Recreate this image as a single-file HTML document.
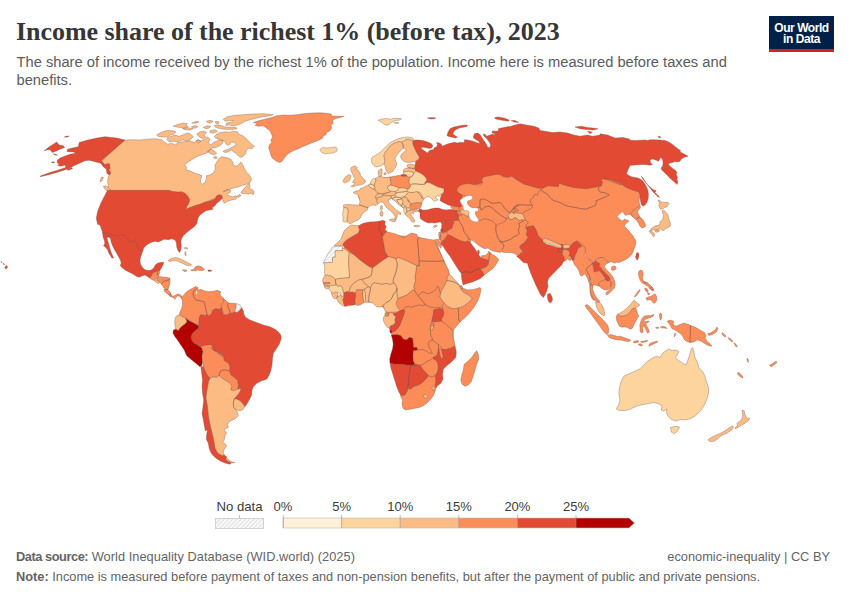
<!DOCTYPE html>
<html>
<head>
<meta charset="utf-8">
<title>Income share of the richest 1% (before tax), 2023</title>
<style>
html,body{margin:0;padding:0;background:#fff;}
body{width:850px;height:600px;position:relative;overflow:hidden;font-family:"Liberation Sans",sans-serif;}
.abs{position:absolute;white-space:nowrap;}
#title{left:16px;top:16.5px;font-family:"Liberation Serif",serif;font-weight:bold;font-size:26px;color:#363636;line-height:30px;letter-spacing:-0.04px;}
#sub{left:16.5px;top:52.9px;font-size:14.7px;color:#5b5b5b;line-height:18px;white-space:normal;width:745px;}
#logo{left:769px;top:16px;width:65px;height:33px;background:#002147;border-bottom:3px solid #ce261e;color:#fff;text-align:center;font-weight:bold;font-size:12px;line-height:11.4px;letter-spacing:-0.45px;}
#logo span{display:block;}
.foot{font-size:12.8px;color:#646464;}
.foot b{color:#646464;}
.lg{font-size:13px;color:#3b3b3b;transform:translateX(-50%);}
svg{position:absolute;left:0;top:0;}
</style>
</head>
<body>
<div id="title" class="abs">Income share of the richest 1% (before tax), 2023</div>
<div id="sub" class="abs">The share of income received by the richest 1% of the population. Income here is measured before taxes and benefits.</div>
<div id="logo" class="abs"><span style="margin-top:6.6px">Our World</span><span>in Data</span></div>

<svg id="map" width="850" height="600" viewBox="0 0 850 600">
<defs>
<pattern id="hatch" width="4" height="4" patternUnits="userSpaceOnUse" patternTransform="rotate(45) scale(0.75)">
<rect width="4" height="4" fill="#fff"/><line x1="1" y1="0" x2="1" y2="4" stroke="#dedede" stroke-width="1.7"/>
</pattern>
</defs>
<g id="countries" stroke="#6b5247" stroke-width="0.35" stroke-linejoin="round">
<!--MAP-START-->
<path fill="#fdbb84" d="M125,140L133.3,139.7L140,140L146.7,139.2L155,138.7L161.7,139.7L165,142.5L167.5,144.2L171.7,143.3L175.8,145L177.5,142.5L184.2,141.7L190,140.8L194.2,142.5L197.5,140L200.8,140.8L205,139.2L207.5,136.7L210,139.2L208.3,142.5L210.8,145L213.3,142.5L217.5,140.8L220,140L223.3,140.5L222.5,143.3L220,145.8L215.8,147.5L211.7,148.3L209.2,150.8L206.7,153L201.7,154.7L196.7,156.7L191.7,159.7L187.5,162.5L184.7,164.7L186.7,167.5L185.8,169.7L190,170.8L194.2,173L198.3,174.2L201.7,175.3L200.8,179.2L200.3,182.5L202.5,184.2L205,182.5L206.7,178.3L206.3,175.8L210,175L213.3,173L215.3,169.2L215,165L217,161.7L219.2,158.3L221.7,156.7L226.7,157.5L230.8,159.2L232.5,161.7L233.3,165L235.8,166.3L238.3,165L240.8,162L242.5,164.2L244.2,168.3L246.7,172.5L250,175.8L251.7,179.2L250,182.5L246.7,184.2L242.5,185.3L238.3,187L233.3,188L229.2,189.2L225.8,190.8L223.3,191.7L227.5,189.7L230.8,190L230,192.5L226.7,194.2L229.2,195.8L232.5,196.7L235.8,195.8L237.5,196.7L235.8,199.2L231.7,200L227.5,201.3L224.2,203.3L223,201.3L222.5,198L218.3,196.7L186.7,210L107.5,190.3L108.3,185.8L107.5,181.7L108.3,176.7L110.3,173.3L101.3,160.8ZM240.8,192.5L244.2,188.3L247.5,185L249.2,183.3L250,185.8L249.2,188.3L252.5,189.7L254.2,191.7L253.3,194.7L250.8,193.3L248.3,194.2L245,193.3L242.5,193.7ZM237.5,195.8L240,194.2L240.8,195.8L238.3,197.5ZM156.7,135L160.8,132.5L166.7,130.5L173.3,130.8L175.8,132L173.3,134.2L170,135L167.5,137.5L165,136.7L160.8,137L158,136.3ZM166.7,139.2L170,136.7L175,135L179.2,136.3L183.3,134.7L187.5,133L190.8,134.2L193.3,136.7L190.8,139.2L187.5,140.8L182.5,140L178.3,141.7L173.3,141.3L169.2,141.7ZM173.3,126.2L178.3,124.2L183.7,123L187.5,123.7L185.8,125.3L188.3,126.7L184.2,128L180,127.5L176.7,127ZM191.7,123L196.7,121.3L199.2,121.7L195.8,123.3ZM191.3,127L195,125.5L198,126.7L195,128.3ZM182.5,128.7L187.5,127.7L193.3,128.7L190,130L185,129.8ZM196.7,134.2L200,131.7L204.2,131.3L206.7,132.5L204.2,135L205.8,137.5L202.5,138.7L199.2,136.7ZM196.3,140.5L198.7,139.7L200.8,141.3L198.3,143ZM206.3,121.3L210,120.3L213.3,121.3L210.8,123L207.5,122.5ZM203.3,127.5L206.7,125.8L210.8,126.3L209.2,128L205.8,128.7ZM215.8,121.3L219.2,122L218.3,123.7L215.3,123ZM214.4,125.6L217.5,124.8L221.2,125.6L225,126.9L230,127.2L236.2,127.5L236.9,128.8L232.5,129.4L227.5,129.4L222.5,129L218.1,128.1L215.6,127.2ZM210,130.8L215,129.7L217.5,131.3L213.3,133.3L210,132.5ZM223.3,119.2L227.5,116.7L235,115.3L243.3,114.7L253.3,114L263.3,113.7L273.3,114.7L270,115.8L263.3,116.7L256.7,118L250,119.7L245,121.3L241.7,123.3L237.5,125L233.3,125.8L229.2,125L225.8,125.3L226.7,123L231.7,122L233.3,120.3L228.3,120.8L225,121.3ZM214.4,136.9L216.2,134.4L220,132.5L225,131.9L230,132.2L232.5,131.2L237.5,131.9L239.4,134.4L242.5,135.6L245.6,138.1L248.8,141.2L251.2,143.8L254.4,146.2L251.9,148.8L248.8,148.1L246.2,150.6L245.6,153.8L243.1,156.2L240.6,157.5L238.1,155.6L236.2,153.8L233.8,151.9L231.2,150L228.1,151.9L225,152.5L223.1,151.2L225.6,150L229.4,148.8L232.5,146.9L236.2,145L235,142.5L231.9,141.9L230,143.8L228.1,145.6L226.2,144.4L225,141.9L223.8,140.6L220,139.4L216.9,138.8ZM207.5,151.7L210.8,149.2L214.2,150.8L216.7,153.3L214.2,155L210.8,153.7ZM213.3,157.5L215.8,156.3L217.5,158L215.3,158.8Z"/>
<path fill="#fdbb84" d="M100,180.8L101.3,177.5L103.3,177L102.5,180L100.8,182ZM103.3,186.3L105.8,185.8L109.2,188.3L111.7,190.8L110.8,194.2L108.3,191.7L105,189.2Z"/>
<path fill="#e34a33" d="M125,140L116.7,138L105,136.7L96.7,138L86.7,140.3L79.2,142.5L78.3,146.7L74.7,147.5L67.5,149.2L67,151.7L73.7,152L75.8,153.3L70,154.2L65.8,155.8L60,158L57.5,160L57,162.5L59.2,164.2L57.5,165.3L60.8,166.3L65,165L65.8,167.5L58.3,170L50,172.5L40.8,175.8L40,176.7L46.7,175.3L56.7,172.5L66.7,169.2L75,165.3L80,163L85,160.8L89.2,160.3L95,161.7L100.8,163.3L103.3,166.7L106.3,169.2L107,173.7L109.7,175L110.8,172.5L109,170L110,168.3L109.7,163.7L106.7,163.7L105,164.7L101.3,160.8ZM64.2,137L67,136L69.3,136.3L66.7,137.3ZM44.2,150.8L48.3,147.5L56.7,142L59.2,145L63.3,145.8L64.7,147.5L60,149.2L56.7,150.8L52.5,152.5L50,149.7L46.7,150ZM53.3,153.8L55.8,154.2L57.5,155.3L55,155ZM51.3,162.2L53.3,161.7L54.7,162.5L52.5,163ZM67,169.2L71.7,167.5L72.5,168.7L68,170.3Z"/>
<path fill="#e34a33" d="M107.5,190.3L169.2,190.3L171.7,191.3L177.5,192L181.7,191.7L185,193.3L187.5,195.8L189.7,199.2L189.2,202.5L186.7,206.7L185.8,209.2L190,207.5L195.8,205.3L200,204.2L204.2,202.5L210,200.8L215,198.7L216.7,195.8L219.2,194.7L221.7,195.3L222.5,198L220,200.8L216.7,203.3L215,205.8L211.7,208L213.3,209.2L209.2,210L205.8,210.8L203.3,212.5L200,215L198.3,217.5L197.5,220L196.7,223.7L194.2,226.7L190.8,229.2L186.7,232.5L183.3,235.8L181.7,238.3L180.8,241.7L181.3,245.8L180.8,250L179.7,252.5L178,250.8L176.7,246.7L176.3,242.5L175,240L171.7,238.7L168.3,239.7L164.2,239.2L162.5,240L158.3,242L155,241.3L150.8,242.5L146.7,245L143.7,248L142.7,251.3L140.8,253L138.3,250.3L135.8,247L134.2,244.7L131.7,245.3L129.2,243.7L126.7,240.3L124.2,237.8L120,237.5L116.7,239.2L110,237.8L104.2,236.2L103,233L101.7,230L100,225L97.5,224.2L96.3,218.3L97.5,211.7L100.8,203.3L104.2,196.7Z"/>
<path fill="#fdbb84" d="M168.3,260.3L171.7,258.3L175.8,257.5L180,258.7L184.2,260.8L188.3,263L191.7,264.7L190.8,265.8L186.7,265.3L184.2,264.2L180.8,262.5L176.7,260.8L172.5,260.8L169.2,261.7Z"/>
<path fill="#fc8d59" d="M190.8,270L194.2,269.2L195,267L198.3,265.8L202,267L204.7,269.7L201.7,270.8L198.3,270L195.8,270.8L191.7,270.8ZM182.5,270L185,269.7L187,270.8L184.7,271.7Z"/>
<path fill="#e34a33" d="M208,270L211.3,270L211.3,271.3L208,271.3Z"/>
<path fill="#fdbb84" d="M183.8,248L187,247.5L187.8,249.2L186.7,248.7ZM184.7,252.5L185.8,251.7L186.2,255.8L185,255Z"/>
<path fill="#e34a33" d="M102.5,232.5L106.2,232.8L110.6,234.4L115,235.6L120,235.6L123.1,234.8L125.6,235.6L127.5,238.1L129.4,241.2L131.9,241.9L133.8,240.6L135.6,241.9L137.5,245.6L138.8,248.8L140.6,250.6L142.5,250.6L141.9,253.8L140.6,256.9L140,260.6L140.6,264.4L142.5,267.5L145,269.8L148.1,270.6L151.2,270L153.8,268.1L155,265.6L156.9,263.5L160,262.5L163.8,262.2L163.1,264.4L161.9,266.9L160.6,269.4L159.4,271L158.1,271.2L155.6,271.9L153.8,273.1L152.5,275L151.9,277.2L150,278.1L148.1,276.9L145,275L141.9,276L139.4,277.2L136.2,276.2L132.5,273.8L128.8,271.9L125,270L121.9,267.5L120.2,265.6L121.2,263.1L120.6,260.6L119,257.5L116.9,253.8L115,250.6L113.1,246.9L111.5,243.1L110.6,239.4L110,236.2L108.1,235.6L106.9,236.2L107.2,238.8L108.1,241.9L109,245L110,248.8L111.2,252.5L112.5,255.6L113.5,258.1L111.9,258.1L110,255L108.5,252.5L107.5,249.4L105.6,247.5L103.5,245.6L104.8,243.8L104.4,240.6L103.1,236.9Z"/>
<path fill="#fc8d59" d="M253.3,122.5L258.3,120.8L265,119.2L271.7,117.5L276.7,115.8L283.3,115L290,115.3L296.7,114.7L303.3,113.7L311.7,113L320,112.8L326.7,113.3L331.7,114.2L330.8,115.8L336.7,116.3L344.2,116.3L340,117.5L335,118.7L332.5,120.8L333.3,123.3L330.8,125L331.7,128.3L330,130.8L326.7,132.5L325.8,135L323.3,135.8L322.5,138.3L319.2,140L315,141.7L310.8,143.3L306.7,145L302.5,146.7L298.3,148.7L294.2,150.3L290,152.5L286.7,155L284.2,158.3L281.7,161.7L279.2,162.5L275.8,160.8L272.5,158.3L270.8,155L270,151.7L268.7,148.3L269.2,145L271.7,142.5L270.8,140L272.5,137.5L271.7,134.2L270,130.8L266.7,128.3L263.3,125.8L258.3,126.3L255,125.3L257.5,123.7Z"/>
<path fill="#fdd49e" d="M319.7,149.7L322.5,147.5L326.7,148L331.7,147.5L335.8,147L337.5,148.7L336.7,151.3L333.3,153L329.2,153.3L325,153.8L321.7,152.5Z"/>
<path fill="#fc8d59" d="M149.8,278.1L151.9,275L153.1,272.5L155.6,271.9L156.9,271L157.5,272.5L157.2,275L158.8,276.2L156.9,278.1L154.8,280.6L152.5,280ZM157.5,271L159.4,270.2L159.8,272.5L158.8,275.6L157.2,275L157.5,272.5Z"/>
<path fill="#fdbb84" d="M154.8,281L156.9,280L159.4,281.9L158.8,283.5L156.2,282.8Z"/>
<path fill="#fc8d59" d="M156.9,278.1L158.8,276.2L161.9,276.9L166.2,277.2L170,278.1L168.8,280L165.6,280.6L163.1,281.9L161.2,283.8L159.4,281.9L156.9,280ZM161.2,283.8L163.1,281.9L165.6,280.6L168.8,280L170,278.8L170,283.1L169,286.2L168.1,289.4L165.6,289.4L163.8,287.8L162.2,285.6ZM163.8,289.4L165.6,289.4L168.1,289.8L170,292.5L171.2,295L170,296.2L168.1,294.4L165.6,292.5L164.4,291.2ZM170,292.5L171.2,295L173.1,296.2L175,295.6L177.5,294L180,294.4L181.9,296.2L182.5,298.8L181,298.1L179.8,296.2L177.5,296L175.6,297.8L174.8,299.4L173.5,297.5L171.2,296.9L170,296.2Z"/>
<path fill="#e34a33" d="M209.2,315.8L211.7,313.3L212.5,310L215.8,308.3L219.2,309.2L221.7,307.5L222.5,310L223.3,314.2L226.7,314.7L230,313.3L231.7,313L235,311.7L236.7,312.5L239.2,310.8L241.7,307.5L243.3,310.8L244.2,315L245.8,317.5L250,320L256.7,322.5L263.3,325L270,326.7L275,329.2L278.3,331.7L280.8,335L281.2,338.3L280.8,340L279.2,344.2L276.7,348.3L273.3,353.3L272.5,358.3L272,365L270.8,370.8L269.2,375L266.7,379.2L261.7,380.8L256.7,383.3L253.3,386.7L252,390L251.7,395L249.2,400L246.7,404.2L245,406.7L243.3,404.2L240,400.8L236.7,399.2L234.2,398.7L237.5,395L240,391.7L240.8,388.3L237.5,389.2L238.3,385L237.5,380.8L234.2,377.5L230.8,375L229.2,370.8L230,367.5L228.3,363.3L224.2,360.8L223,355.8L219.2,353L213.3,350.3L210.8,347.5L209.2,344.7L205.8,345.8L203.3,345.8L200,346.7L197.5,345L194.2,343.3L192,340.8L190.8,336.7L192.5,333.3L195,330.8L198.3,328.3L198.3,325.8L198.7,321.7L199.2,317.5L200,315L203.3,314.7L205.8,315.8L206.7,313.3Z"/>
<path fill="#fc8d59" d="M181.7,298.3L183,295.8L185.8,292.5L189.2,290L192.5,288.3L195.8,286.3L197.5,287.5L195.8,289.2L193.7,290.8L193,294.2L194.2,297.5L195.8,300L200,300.8L204.2,301.7L205,305L205.8,309.2L206.7,313.3L205.8,315.8L203.3,314.7L200,315L199.2,317.5L198.7,321.7L198.3,325.8L195.8,324.2L192.5,322.5L189.2,320.8L185.8,318.3L182.5,316.7L179.2,315L180,311.7L181.7,308.3L182.5,305L182.5,301.7ZM195.8,289.2L197.5,287.5L198.3,290L200.8,289.2L204.2,290.8L208.3,291.7L213.3,291.3L217.5,290.3L220.8,291.7L220,294.2L221.7,296.7L223.3,298.3L225.8,300.8L223.3,302.5L220.8,305L221.7,307.5L219.2,309.2L215.8,308.3L212.5,310L211.7,313.3L209.2,315.8L206.7,313.3L205.8,309.2L205,305L204.2,301.7L200,300.8L195.8,300L194.2,297.5L193,294.2L193.7,290.8Z"/>
<path fill="#fff" stroke="#b9a79a" d="M195.8,291.7L197,290.8L197.5,293.3L196.3,294.7Z"/>
<path fill="#fc8d59" d="M223.3,298.3L225.8,300.8L228.3,302.5L227.5,305.8L229.2,309.2L230,313.3L226.7,314.7L223.3,314.2L222.5,310L221.7,307.5L220.8,305L223.3,302.5ZM228.3,303L233.3,303.3L236.3,303.7L235.8,307.5L235,311.7L231.7,313L230,313.3L229.2,309.2L227.5,305.8Z"/>
<path fill="url(#hatch)" d="M236.3,303.7L239.7,304.7L241.7,307.5L239.2,310.8L236.7,312.5L235,311.7L235.8,307.5Z"/>
<path fill="#fdbb84" d="M179.2,315L182.5,316.7L185.8,318.3L187,321.7L185,324.2L182.5,325.8L180,328.3L178.3,330.8L175.8,329.2L175,325.8L174.7,321.7L175.3,317.5L176.7,315.8Z"/>
<path fill="#b30000" d="M175.8,329.2L178.3,330.8L180,328.3L182.5,325.8L185,324.2L187,321.7L185.8,318.3L189.2,320.8L192.5,322.5L195.8,324.2L198.3,325.8L198.3,328.3L195,330.8L192.5,333.3L190.8,336.7L192,340.8L194.2,343.3L197.5,345L200,346.7L201.7,347.5L203,351.7L202,356.7L202.5,361.7L201.7,365.8L200,366.7L195.8,363.3L190.8,359.2L186.7,355.8L184.2,350L180.8,345L177.5,340L175,336.7L173,333.3L173.3,330Z"/>
<path fill="#fc8d59" d="M200,346.7L203.3,345.8L208.3,344.7L211.7,345L213.3,349.2L215.8,352.5L220,354.2L222.5,356.7L210.8,347.5L213.3,350.3L219.2,353L223,355.8L224.2,360.8L228.3,363.3L230,367.5L229.2,370.8L225.8,370L222.5,370L220,371.7L219.2,375.8L216.7,377.5L213.3,377L210,378L207.5,375.8L205,370.8L203.3,366.7L202.5,361.7L202,356.7L203,351.7L201.7,347.5ZM220,371.7L222.5,370L225.8,370L229.2,370.8L230.8,375L234.2,377.5L237.5,380.8L238.3,385L237.5,389.2L234.2,390.8L230.8,390L231.7,385.8L230,383.3L225.8,380.8L222.5,378.7L219.2,375.8Z"/>
<path fill="#fdbb84" d="M234.2,398.7L236.7,399.2L240,400.8L243.3,404.2L244.7,407L242.5,410L239.2,410.8L235.8,409.7L233.7,407.5L233.3,403.3ZM210,378L213.3,377L216.7,377.5L219.2,375.8L222.5,378.7L225.8,380.8L230,383.3L231.7,385.8L230.8,390L234.2,390.8L237.5,389.2L240.8,388.3L240,391.7L237.5,395L234.2,398.7L233.3,403.3L233.7,407.5L235.8,409.7L237.5,412.5L238.3,415.8L235.8,418.3L232.5,420L229.2,421.7L227.5,424.2L228.3,427.5L225.8,428.3L224.2,430.8L226.7,432.5L225,435.8L224.2,440L222.5,442.5L225,443.7L226.7,445.8L224.2,449.2L223.3,452.5L224.2,455L222.5,455.8L219.2,454.2L216.7,451.7L215,448.3L214.2,443.3L213.3,438.3L212,433.3L210.8,428.3L209.7,423.3L208.7,418.3L208,413.3L207.5,407.5L206.7,402.5L205.8,397.5L206.7,391.7L207.5,386.7L208.3,381.7Z"/>
<path fill="#e34a33" d="M200.8,366.7L203.3,366.7L205,370.8L207.5,375.8L210,378L208.3,381.7L207.5,386.7L206.7,391.7L205.8,397.5L206.7,402.5L207.5,407.5L208,413.3L208.7,418.3L209.7,423.3L210.8,428.3L212,433.3L213.3,438.3L214.2,443.3L215,448.3L216.7,451.7L219.2,454.2L222.5,455.8L224.2,455L226.7,456.7L225.8,459.2L228.3,461.3L231.7,462.5L230,464.2L225.8,463.3L220.8,461.3L216.7,458.7L213.3,455.8L210.8,452.5L209.2,448.3L208.3,443.3L206.3,439.2L206.7,434.2L207.5,430L205.3,430.8L204.2,425L203,418.3L202,413.3L203,406.7L203.7,400L202.5,393.3L202,386.7L202.5,380L201.7,373.3Z"/>
<path fill="#fdbb84" d="M226.7,457.5L229.2,460L232.5,462L235,462.5L231.7,463L228.3,461.3L225.8,459.2Z"/>
<path fill="#e34a33" d="M413.1,141.2L415,140L418.8,140L423.1,140.6L427.5,141.9L431.2,143.5L432.8,145.6L431.9,147.8L429.4,148.5L426.2,147.8L423.1,147.2L420.6,147.8L422.5,149.4L425,151.2L427.5,153.1L428.8,151.2L430.6,150L433.1,149.8L434.4,147.8L436.9,146.5L437.5,144L436.2,142.8L438.8,142.8L441.2,144L442.2,146.2L444.4,145.2L447.5,144L451.2,143.1L454.4,142.2L457.5,143.1L460.6,142.2L463.1,142.8L464.8,141.2L463.8,140L466.2,139.8L470,140.6L473.8,141.5L476.9,142.8L480,143.5L478.8,141.2L475.6,139.4L473.1,137.5L474.4,133.8L477.5,133.1L480,134.4L481.9,137.5L483.8,140.6L486.2,143.8L487.5,146.9L489.4,147.8L490.6,145.6L490,143.1L488.1,140.6L486.2,138.1L484,136.2L483.1,133.8L485,134.4L486.9,136.2L490,135L492.5,134L495.6,135.6L494.4,133.8L491.9,132.5L492.5,131L496.2,131.2L498.8,130.6L498.1,128.8L501.2,128.1L506.2,126.9L511,126.2L515,125L520,123.8L526.2,125L533.8,126.2L538.8,128L540,130.5L545,131.2L552.5,132.5L560,132L567.5,133L573.8,135L580,136.2L587.5,135L592.5,136.2L600,135L600,133.8L607.5,135L615,138.1L622.5,137.5L628.8,138.8L630.6,140.2L635,140.6L640,140.2L645,140L648.1,140.6L649.4,139.8L655,139.8L660,140L665,140.6L668.8,141.9L671.9,144L675,146.5L678.1,149L680.6,150.6L680,151.9L683.8,153.8L688.1,156.2L684.4,157.2L681.2,159L680,161.2L677.5,161.9L675,161.5L672.5,162.5L670,163.1L668.1,164L670,166.2L673.1,168.8L675.6,170.6L676.9,172.5L676.2,174.8L677.5,176.9L676.9,179.4L677.9,181.9L677.1,184.4L673.8,181.5L670.6,178.8L667.5,175.6L664.4,172.5L661.9,170L661,168.1L662.5,166.2L663.1,163.8L662.8,160.6L662.2,158.8L660.6,157.5L659.4,159.4L658.8,161.2L656.9,160.6L654.4,159.4L651.9,159L650,160.6L650.6,163.1L652.5,164.4L650,165.2L646.9,164.8L643.1,164.4L639.4,164.8L635,165L630,165.6L628.1,169.4L626.5,173.8L628.1,175L631.9,176.9L635,177.5L638.1,178.1L641.9,180L644.4,183.1L646.2,186.2L647.8,190L648.5,194.4L648.1,198.8L646.9,202.5L645,205L643.1,206.2L641.2,204.4L640.6,201.2L640,197.5L639.4,193.8L638.8,191.9L638.8,192.5L632.5,193.5L626.2,191L621.2,187.2L615,184.8L610,183L603.8,182.5L602.5,185.5L598.8,189.2L592.5,191L586.2,192L580,191.5L572.5,190.2L566.2,188.5L561.2,187.2L557.5,190.2L551.2,189L545,191L540,194L536.2,191.5L530,189L523.8,186.5L517.5,184L512.5,181L506.2,181.5L501.2,180.2L497.5,177.8L490,179.5L483.8,181.5L481.2,185.2L472.5,187L463.8,187.8L459.5,188L457.5,187.9L457.1,190.4L458.3,192.5L460.8,193.8L463.3,195.4L465,196.7L463.3,197.5L461.2,198.8L460,200.4L460.4,202.5L461.7,205L463.3,207.5L464.6,209.6L462.9,210.2L461.7,208.9L459.2,207.7L456.2,206.8L453.3,206.4L450.4,205.6L448.3,205L446.7,204.2L444.2,202.9L441.7,201.7L440,200.4L440.4,198.3L441,196.7L441.7,195.4L440.8,194.6L442.9,193.3L444,191.2L443.8,188.8L441.7,187.9L437.9,187.1L433.8,185L430,183.1L426.9,182.5L424.4,184.4L425,181.9L426.9,180L425.6,177.5L425.6,177.5L423.1,175L420,173.1L416,171.2L414.4,169L414.4,167.5L415.2,165.2L415.6,161.2L418.1,159.4L419.4,157.5L418.1,155L416.2,151.9L414.4,148.1L413.1,145L412.5,141.9L413.1,140.6ZM427.2,118.1L431.2,117.5L435.6,117.8L435,118.8L430.6,119ZM446.9,135.6L448.1,131.9L450,128.8L453.1,127.2L457.5,126.2L462.5,125.2L467.5,125L466.9,126.5L463.1,127.2L459.4,128.1L456.2,129.4L454,131.2L452.8,133.8L455,135.6L457.5,137.2L455.6,138.1L451.9,137.2L448.8,136.5ZM494.4,117.8L497.5,116.9L501.9,117.5L506.2,118.8L509.4,120.2L508.1,121.2L503.8,120.6L499.4,119.8L495.6,119ZM511.2,120.5L515,120.5L518.8,122.5L513.8,122ZM575,127L581.2,126.2L587.5,127.5L592.5,128L598,128.8L593.8,130L586.2,129.5L580,128.8ZM587.5,131.2L592.5,132L590,133.8ZM658.1,136.5L660,136.2L660.6,137.8L658.8,137.8ZM641.2,176.2L643.1,178.1L645.6,181.9L648.1,185L650.6,187.5L653.8,190L656.2,190.6L655,192.5L657.5,195L659.8,197.2L658.1,196.9L655.6,194.4L653.1,191.9L650.6,188.8L648.1,185.6L645.6,182.5L643.1,179.4ZM401.2,175L403.5,174.4L405.6,174.8L405.6,175.6Z"/>
<path fill="#fdbb84" d="M358,196L368,186L380,178L392,177L404,178L412,180L416,186L412,192L420,196L416,204L412,209L409,214L405,210L400,204L394,200L388,197L384,200L378,199L372,203L362,204Z"/>
<path fill="#fc8d59" d="M462,196L470,186L500,178L530,186L560,192L600,190L625,192L634,198L628,206L615,214L620,228L628,240L626,250L615,258L600,258L595,250L580,246L560,236L545,232L530,238L515,245L500,247L488,244L478,238L470,232L462,228L452,222L452,212L462,206Z"/>
<path fill="#fdd49e" d="M378.1,120.2L381.9,119L387.5,118.5L390.6,119.4L392.5,118.5L397.5,118.2L401.5,118.8L400,120L395,120.6L391.9,121.9L390,123.8L387.5,125.2L385,124.8L381.9,122.5ZM393.8,122.5L396.9,122.1L399,122.9L396.2,123.8ZM371.2,159.4L372.5,156.9L376.2,155L380.6,151.9L383.8,148.8L386.9,145.6L390,142.8L393.8,140.6L398.1,138.8L402.5,137.5L407.5,136.9L411.9,137.8L414,139L413.1,140.6L410.6,140L408.8,139.4L406.2,139.8L403.8,141.2L401.9,142.2L399.4,141.5L396.2,142.5L393.1,143.8L390.6,145.6L388.1,148.8L385.6,151.9L384,155L384.4,158.1L385,161.2L384,163.8L381.9,165.6L379.4,166.2L376.2,166.9L373.8,165.6L371.9,163.1Z"/>
<path fill="#fdbb84" d="M384,155L385.6,151.9L388.1,148.8L390.6,145.6L393.1,143.8L396.2,142.5L399.4,141.5L401.9,142.2L403.1,145L403.5,148.1L401.9,149.4L399.4,151.9L396.9,155L395,158.1L395.6,161.2L396.9,163.1L396.2,166.2L394.4,168.8L393.1,171.2L390.6,172.5L388.8,173.8L386.9,171.9L385.6,168.8L384.8,165.6L384,163.8L385,161.2L384.4,158.1ZM401.9,142.2L403.8,141.2L406.2,139.8L408.8,139.4L410.6,140L413.1,140.6L412.5,141.9L413.1,145L414.4,148.1L416.2,151.9L418.1,155L419.4,157.5L418.1,159.4L415.6,161.2L412.5,161.9L408.8,162.5L405.6,162.2L403.1,160.6L401.2,158.8L400.6,156.2L401.9,153.8L404.4,151.9L406.2,150L405,149L403.5,148.1L403.1,145ZM378.1,171.2L379.8,169.4L381.9,168.8L382.2,171.2L381.8,174L381.2,176.5L379.2,176.8L378.5,174.8ZM383.8,173.1L386,172.5L386.2,174.4L384.4,175ZM406.9,165L410,164L413.1,164.4L415.2,165.2L414.4,167.5L414.4,169L411.2,168.1L408.1,167.8ZM403.1,170.2L405,168.5L408.1,167.8L411.2,168.1L414.4,169L416,171.2L413.8,173.1L411.9,171.9L408.8,171.2L405.6,171.5L403.5,172.5Z"/>
<path fill="#fdd49e" d="M403.5,172.5L405.6,171.5L408.8,171.2L411.9,171.9L413.8,173.1L412.5,176L410,177.2L408.1,176.9L405.6,175.6L405.6,174.8L403.5,174.4ZM410,177.2L412.5,176L413.8,173.1L416,171.2L420,173.1L423.1,175L425.6,177.5L426.9,180L425,181.9L424.4,184.4L424.4,184.4L420,184.4L415.6,183.8L411.9,184L410.2,185.6L408.8,182.5L409,180ZM410.2,185.6L411.9,184L415.6,183.8L420,184.4L424.4,184.4L426.9,182.5L430,183.1L433.8,185L437.9,187.1L441.7,187.9L443.8,188.8L444,191.2L442.9,193.3L440.8,194.6L441.7,195.4L440,196.2L437.9,195.8L435.8,196.7L435.4,197.9L437.1,198.8L437.9,200L435.8,200.8L433.8,201.2L432.5,200L431.7,198.3L430,197.1L428.3,196.7L426.7,196.7L425,197.9L424,199.2L422.9,198.8L422.1,196.7L420.4,194.2L418.8,192.5L417.1,191.7L415,192.1L412.9,192.5L410.8,192.5L408.8,192.1L406.9,191.2L408.1,189.4L409.4,188.1Z"/>
<path fill="#fdbb84" d="M342.8,181.2L344.4,178.1L346.9,175.6L349.4,174.4L351,175.6L350.6,178.1L349.4,180.6L346.9,182.2L344.4,183.1ZM351.2,167.5L353.8,166L356.2,166.5L357.5,167.8L355.6,169.4L358.1,170L359.8,172.5L360.6,175.6L362.8,178.1L365,180L365.6,181.9L363.8,183.8L360,185L356.2,185.6L352.5,186.9L351.2,186.2L353.8,184.4L355,183.1L352.5,182.5L353.8,180L355.6,178.8L353.8,176.9L352.5,173.8L351.2,171.2L350.6,169.4ZM353.8,191.9L356.9,190.6L359.4,191L360,188.8L363.1,187.8L365.6,186.2L368.1,185L370,186.9L372.5,188.8L375.6,190.6L378.1,191.9L377.5,194.4L375.6,196.2L375,198.1L376.9,199.4L376.9,201.9L378.1,203.8L376.2,205.6L373.1,205L370.6,205.6L368.1,207.5L365,206.9L361.9,205.6L359.4,205L360,201.9L359.4,198.1L358.1,195L355.6,193.8L353.5,193.1ZM380.6,206.2L382.2,205.6L382.5,208.8L381.2,210.6L380.2,208.8ZM343.1,205.6L345.6,204.4L348.8,204.4L352.5,204.8L356.2,205L359.4,205L361.9,205.6L365,206.9L368.1,207.5L367.5,210L364.4,211.9L361.9,214.4L360.6,217.5L358.1,220L355,221.2L351.9,223.1L349.4,223.8L347.5,221.9L346.9,218.8L347.5,215L348.1,211.2L347.5,208.1L343.8,207.5Z"/>
<path fill="#fdd49e" d="M343.8,207.5L347.5,208.1L348.1,211.2L347.5,215L346.9,218.8L347.5,221.9L344.4,221.9L342.8,221.2L343.1,217.5L342.5,213.8L343.1,210.6ZM368.1,185L370,184L372.5,184.4L374.4,186.2L375,188.5L372.5,188.8L370,186.9ZM370,184L371.2,180.6L373.1,178.8L375.6,178.5L376,180.6L374.8,183.1L374.4,186.2L372.5,184.4Z"/>
<path fill="#fdbb84" d="M375.6,178.5L378.1,176.9L380.6,176.2L383.1,177.2L386.2,177.5L390,177.2L390.6,180L391.2,183.1L390.6,185L388.1,186.2L387.5,188.1L389.4,190.6L388.8,192.5L385.6,193.1L382.5,193.8L378.8,193.1L376.9,192.5L375.6,190.6L375,188.5L374.4,186.2L374.8,183.1L376,180.6ZM375.6,196.2L376.9,194.4L379.4,193.8L382.2,194L383.1,195.6L381.2,196.9L378.8,197.5L376.9,198.1ZM383.1,193.8L385.6,193.1L388.8,192.5L391.9,191.2L395.6,191.5L396.2,193.8L394.4,195.2L391.2,196L387.5,195.6L385,195.2L383.1,195.6Z"/>
<path fill="#fdd49e" d="M387.5,188.1L388.1,186.2L390.6,185L393.8,185.6L396.9,186.9L399.4,188.1L398.1,190L395.6,191.5L391.9,191.2L389.4,190.6Z"/>
<path fill="#fc8d59" d="M390.6,180L390,177.2L393.8,176.2L398.1,175.6L401.2,175L405.6,175.6L408.1,176.9L410,177.5L409,180L408.8,182.5L410.2,185.6L409.4,188.1L406.2,188.8L403.1,187.8L399.4,188.1L396.9,186.9L393.8,185.6L390.6,185L391.2,183.1Z"/>
<path fill="#e34a33" d="M401.2,175.2L403.3,174.8L406.7,175L406.8,176L404.2,176.3L401.7,176.2Z"/>
<path fill="#fdd49e" d="M398.1,190L399.4,188.1L403.1,187.8L406.2,188.8L408.1,189.4L406.9,191.2L403.1,191.9L400,192.2L396.9,192.5L396.2,193.8L395.6,191.5ZM396.2,193.8L396.9,192.5L400,192.2L403.1,191.9L406.9,191.2L408.1,192.5L406.2,195L403.8,196.9L400,197.5L397.5,197.2L395.6,196L394.4,195.2ZM391.2,196L394.4,195.2L395.6,196L395,197.5L392.5,198.1L391,197.5ZM392.5,198.1L395,197.5L397.5,197.2L400,197.5L401.9,198.8L399.4,199.4L396.9,199.8L397.5,201.9L400,204.4L402.5,206.9L400.6,206.2L398.1,204.4L396,202.2L394.4,200L392.8,199.8ZM396.9,199.8L399.4,199.4L401.9,198.8L403.1,201.2L402.5,203.8L401.9,205.6L400,204.4L397.5,201.9Z"/>
<path fill="#fdbb84" d="M401.9,198.8L403.8,196.9L406.2,197.5L408.1,199.4L409.4,201.9L410.6,203.8L410,206.2L408.8,208.1L406.2,208.1L405,206.2L403.5,205L402.5,203.8L403.1,201.2Z"/>
<path fill="#fdd49e" d="M401.9,205.6L402.5,203.8L403.5,205L405,206.2L403.8,208.1L402.5,207.5ZM403.8,208.1L405,206.2L406.2,208.1L406.9,210.6L406.2,213.1L404.8,213.8L403.8,211.2ZM406.2,208.1L408.8,208.1L410.6,208.8L410,210.6L407.5,211.2L406.9,210.6Z"/>
<path fill="#fdbb84" d="M404.8,213.8L406.2,213.1L406.9,210.6L407.5,211.2L410,210.6L413.1,210L416.2,209.4L418.1,210.6L416.2,211.9L413.1,211.9L413.8,213.8L411.9,213.1L410.6,213.8L411.9,216.2L413.8,218.8L415,221.2L413.1,222.5L411.2,221.2L410,218.8L408.1,216.9L406.2,215.6ZM413.8,225.6L416.9,225.2L420,226L417.5,226.9L414.4,226.5ZM406.2,195L408.1,192.5L408.8,192.1L410.8,192.5L412.9,192.5L415,192.1L417.1,191.7L418.8,192.5L420,194.6L421.2,196.2L421.7,197.9L422.9,198.8L424,199.3L422.9,200.8L422.1,202.5L419.6,202.9L416.7,202.7L413.8,203.3L411.7,203.8L410,202.9L408.8,201.2L407.1,200L409.4,201.9L408.1,199.4L406.2,197.5L403.8,196.9Z"/>
<path fill="#fc8d59" d="M410.4,204.6L411.7,203.8L413.8,203.3L416.7,202.7L419.6,202.9L422.1,202.9L421.7,204.6L421,206.7L420,208.3L418.3,208.8L416.2,209.2L414.2,209.8L412.1,209.6L410.8,207.9L410.8,206.2Z"/>
<path fill="#fdbb84" d="M417.9,192.3L419.6,192.1L421.2,194.2L422.5,196.2L422.9,198.8L421.7,197.9L421.2,196.2L420,194.6ZM376.9,199.4L378.8,197.5L381.2,196.9L383.1,195.6L385,195.2L387.5,195.6L391.2,196L391,197.5L390,199.4L388.1,200L388.8,202.5L391.2,205L393.8,207.5L396.2,210L399.4,211.9L401.2,213.1L400.6,214.8L398.8,213.8L396.9,213.8L397.5,216.2L396.2,218.8L394.8,219.4L395.2,216.9L393.8,214.4L391.9,211.9L389.4,210L386.9,208.1L385,205.6L383.8,203.1L381.9,201.9L379.4,202.5L378.1,203.8L376.9,201.9ZM389.4,219.4L392.5,218.8L396.2,219.4L395,221.9L391.9,221.2L389.8,220.6ZM380.2,211.9L382.2,211.2L383.1,213.8L382.5,216.2L380.6,216L380,213.8Z"/>
<path fill="#fc8d59" d="M480,185L482.5,183.3L481.7,179.2L484.2,176.7L490,175.8L496.7,174.2L500.8,175L503.3,176.7L507.5,177.5L511.7,176.3L515.8,179.2L520,181.7L524.2,184.2L530,185.8L535,187.5L539.2,188.7L540.8,190L538.3,192.5L537.5,195L534.2,194.7L533.3,197.5L530,200L531.3,203.3L533,205.8L531.7,205L527.5,205.3L523.3,204.7L519.2,205L515.8,206.7L513.3,208.3L511.7,210.8L518.8,204.4L515,205.6L513.8,208.1L511.9,210L510,212.5L507.5,211.2L505,208.8L502.5,205L500,202.5L495,203.1L491.2,203.1L487.5,200.6L483.8,198.8L480,200L480,206.9L479.4,206.9L476.9,207.8L475,208.1L472.5,208.1L470,206.9L468.1,205L466.9,202.5L468.1,200.6L470.6,200L472.5,198.8L472.2,196.2L470,195.6L466.9,196L463.8,195.6L460,193.8L458.1,192.5L457.5,188.8L458.8,186.2L462.5,184.4L467.5,183.5L473.8,184.4L478.8,185ZM480,200L483.8,198.8L487.5,200.6L491.2,203.1L495,203.1L500,202.5L502.5,205L505,208.8L507.5,211.2L510,212.5L511.9,210L513.8,208.1L516.9,208.8L518.8,210.6L516.2,211.2L513.1,211.9L511.9,213.1L509.4,214.4L508.8,217.5L506.9,218.8L504.4,217.5L501.2,215.6L498.1,213.1L495,210.6L492.5,208.1L489.4,206.2L485,206.9L482.5,209.4L481.2,210L480,206.9ZM476.9,207.8L479.4,206.9L480,206.9L481.2,210L482.5,209.4L485,206.9L489.4,206.2L492.5,208.1L495,210.6L498.1,213.1L501.2,215.6L504.4,217.5L506.9,218.8L505,221.2L502.5,223.1L500,225L496.9,225.6L495,223.8L492.5,221.2L489.4,220L485.6,218.8L482.5,219.4L480.6,220.6L478.8,221.2L478.1,218.8L476.2,216.2L475,213.8L475.6,211.2L477.5,211.2L478.5,209.4ZM513.3,208.3L515.8,206.7L519.2,205L523.3,204.7L527.5,205.3L531.7,205L533,206.7L530,209.2L526.7,210.8L524.2,212L522.5,213.7L519.2,213.3L515.8,213L513.3,213.7L514.2,211.3L516.7,210.3L514.2,209.7Z"/>
<path fill="#fdbb84" d="M508,214.2L510.8,213.3L511.7,211.3L513.3,213.7L515.8,213L519.2,213.3L522.5,213.7L523.7,215.8L525,219.2L524.2,220.3L521.7,219.7L519.7,220.8L517.5,219.2L515,217.5L512.5,219.2L510,219.7L508.7,217.5Z"/>
<path fill="#fc8d59" d="M540.8,190L544.2,187.5L548.3,185.8L553.3,186.3L558.3,186.7L559.2,183.3L563.3,184.7L568.3,186.3L573.3,187.5L580,188.3L586.7,188.7L593.3,187.5L598.3,186.7L601.7,185L598.7,188L598.3,190L600,192L603.3,192.5L606.7,193.3L609.2,195L607.5,195.8L604.2,197.5L600,199.2L595.8,200.8L596.7,202.5L595,205.8L590,207.5L585.8,209.2L580.8,208.7L575.8,207.5L570,206.7L565,205.3L561.7,203.3L557.5,201.7L552.5,200L550,197.5L547.5,194.2L544.2,192.5ZM540.8,190L544.2,192.5L547.5,194.2L550,197.5L552.5,200L557.5,201.7L561.7,203.3L565,205.3L570,206.7L575.8,207.5L580.8,208.7L585.8,209.2L590,207.5L595,205.8L596.7,202.5L595.8,200.8L600,199.2L604.2,197.5L607.5,195.8L609.2,195L606.7,193.3L603.3,192.5L600,192L598.3,190L598.7,188L601.7,185L602.5,181.7L600.8,180L603.3,178.7L607.5,179.2L611.7,180.8L616.7,183.3L621.7,185L603.8,178.8L610,179.5L615,181.2L621.2,183.8L626.2,187.5L632.5,190L638.8,192L640,196.2L638.8,201.2L640,205.6L637.5,207.5L635.6,208.8L633.1,210.6L631.2,213.1L632.8,216.9L630.6,214.8L628.1,214.4L625.6,215.6L624,213.8L622.8,211.5L620.6,213.1L618.8,214.8L616.9,216.2L618.5,218.1L620.6,220L622.5,221L624.4,219L626.2,219.8L629,221L626.9,222.8L625,224.4L624.4,226.2L626.2,228.1L628.5,230.6L630.6,233.1L632.8,235.6L634,238.1L635.6,240L636,243.1L635,246.2L634,249.4L632.8,252.5L631.2,255L629.4,256.9L626.9,258.8L624.4,260.2L621.2,261.5L618.8,262.5L616.2,262.2L615,263.3L613.3,262.5L610.8,261.7L608.3,262.5L606.7,260.8L604.2,258.3L600.8,257.5L597.5,258.7L595,260L592.5,261.7L589.2,260L586.7,256.7L585,253.3L584.2,250L585,247.5L582.5,245L580.8,244.2L579.2,241.7L576.7,240.8L574.2,242.5L571.7,244.2L569.2,245.8L565.8,245L562.5,244.7L562.5,245L561.7,245L560,244.2L555,242.5L550,240.3L545.8,238.3L542.5,239.7L540,237.5L537.5,235L536.7,231.7L535,228.3L533.3,225.8L529.2,226.7L525.8,227.5L525.8,225L528.3,223L526.7,220.8L525,219.2L523.7,215.8L522.5,213.7L524.2,212L526.7,210.8L530,209.2L533,206.7L531.3,203.3L530,200L533.3,197.5L534.2,194.7L537.5,195L538.3,192.5ZM611.2,268.1L612.5,266.2L615,266L616.2,267.5L615.2,269.8L613.1,270.6L611.5,269.8Z"/>
<path fill="#e34a33" d="M635.6,256.9L636.6,253.1L638.1,252.5L639,254.4L638.5,257.5L637.5,260.2L636.5,259.4Z"/>
<path fill="#fc8d59" d="M495.8,225.8L498.3,224.2L502.5,223L505,220.8L508,218.3L508.7,217.5L510,219.7L512.5,219.2L515,217.5L517.5,219.2L519.7,220.8L521.7,219.7L524.2,220.3L521.7,222L518.7,223.3L519.7,226.7L518.3,230L519.2,233.3L516.7,235.8L513.3,237L510.8,239.2L506.7,240.8L502.5,242L499.2,241.3L497.5,237.5L496.3,233.3L495.3,229.2ZM499.2,241.3L502.5,242L506.7,240.8L510.8,239.2L513.3,237L516.7,235.8L519.2,233.3L518.3,230L519.7,226.7L518.7,223.3L521.7,222L524.2,220.3L526.7,220.8L528.3,223L525.8,225L525.8,227.5L527.5,230.8L526.3,234.2L528.3,237.5L525.8,240.8L523.7,243.3L520.8,245L519.7,247.5L521.7,250L523.3,252.5L520,254.2L517.5,255.8L514.2,253.3L509.2,252.5L505,252.5L501.7,252L502.5,249.2L504.2,245.8L501.7,243.3ZM458.8,215.6L460,214.8L461.9,215L463.8,213.8L465.6,215.6L467.5,216.2L469.4,217.5L470.6,219.8L473.1,221.2L476.2,221.9L478.8,221.2L480.6,220.6L482.5,219.4L485.6,218.8L489.4,220L492.5,221.2L495,223.8L496.2,226.2L496,230L496.9,233.8L498.1,237.5L500,240L502.5,242.5L503.8,245L503.1,248.1L501.9,250L500.6,252.5L497.5,251.9L493.8,251.2L490.6,250L488.1,248.1L485,248.8L481.9,247.5L478.8,245.6L475.6,243.1L473.1,240.6L470.6,240L468.8,238.8L467.5,236.2L465.6,233.8L463.8,231.2L463.1,228.1L461.9,225L460,222.5L458.8,220L458.1,218.1ZM452.5,220.6L456.2,220.2L458.8,220L460,222.5L461.9,225L463.1,228.1L463.8,231.2L465.6,233.8L467.5,236.2L468.8,238.8L470,241.9L468.1,243.1L465.6,243.1L462.5,242.2L458.8,240.6L455,238.5L451.2,236.2L448.8,236.2L446.2,231.9L448.8,230L451.9,228.1L452.8,225L453.8,222.5Z"/>
<path fill="#e34a33" d="M420,211.2L421.9,210.6L423.1,210L426.9,210L431.2,208.8L435,208.1L438.8,208.1L442.5,209.4L446.2,210L450,209.4L453.1,210L456.2,210.6L457.5,213.1L458.8,215.6L458.1,218.1L458.8,220L456.2,220.2L452.5,220.6L449.4,221.2L446.2,221.9L443.1,221.2L441.2,222.5L440,221.9L437.5,222.5L434.4,223.1L431.2,222.5L428.8,223.1L425.6,221.9L423.1,220.6L420.6,218.8L420,216.2ZM418.1,210.6L420,208.8L421.9,209.4L422.5,211.2L420.6,212.5L418.8,211.9Z"/>
<path fill="#fdbb84" d="M433.1,226.5L435,225.6L437.2,225.2L436.2,226.9L434,227.5Z"/>
<path fill="#fc8d59" d="M450.6,205.6L453.1,206.2L456.2,207.2L459.4,208.5L461.2,209.8L460,211L457.5,210.6L456.2,210.6L453.1,210L451.2,208.1ZM456.2,210.6L457.5,210.6L460,211L461.2,212.8L461.9,215L460,214.8L458.1,213.1Z"/>
<path fill="#fdbb84" d="M460,211L461.2,209.8L463.8,210L466.9,210.6L469.4,211.9L468.8,214.4L467.5,216.2L465.6,215.6L463.8,213.8L461.9,215L461.2,212.8Z"/>
<path fill="#e34a33" d="M441.2,222.5L443.1,221.2L446.2,221.9L449.4,221.2L452.5,220.6L453.8,222.5L452.8,225L451.9,228.1L448.8,230L446.2,231.9L443.8,233.1L441.9,232.5L442.5,229.4L441.5,226.9L441.9,224.4ZM440.6,229.4L442.2,228.1L442.5,229.4L441.9,232.5L441,231.9Z"/>
<path fill="#fc8d59" d="M440.6,235L441.9,232.5L443.8,233.1L446.2,231.9L449,236.2L448.1,238.8L445.6,240.2L443.5,242.2L441.2,243.1L440,240L440.2,237.5ZM438.8,232.5L440.6,231.9L441,231.9L440.6,235L440.2,237.5L440,240L439.4,238.8L438.8,235.6Z"/>
<path fill="#e34a33" d="M440.6,243.8L441.9,241.2L444.4,239.4L446.2,236.9L447.5,235L450.6,235.6L455,238.1L460,240.6L465,241.9L468.1,241.2L470,241.9L472.5,245.6L475,248.8L476.9,251.9L478.5,254.4L480.6,257.5L483.8,258.8L487.5,259.8L489,260.6L488.5,264.4L486.2,266.9L482.5,268.8L480,268.8L475,270L471.2,272.5L465,271.9L461.2,273.1L459.4,271.2L456.2,266.2L453.1,261.2L450,256.2L446.2,251.2L443.1,246.2ZM461.2,273.1L465,271.9L471.2,272.5L475,270L480,268.8L482.5,271.2L484.4,275L480,278.8L472.5,281.9L466.2,283.8L463.1,285L461.9,280Z"/>
<path fill="#fc8d59" d="M489,260.6L489,258.1L489.4,255L490,252.5L492.5,254.4L495.6,256.2L498.8,259.4L496.9,263.1L494.4,266.9L491.2,270L487.5,272.5L484.4,275L482.5,271.2L480,268.8L482.5,268.8L486.2,266.9L488.5,264.4ZM480.6,257.5L481.9,255.6L485,255.6L487.5,253.8L488.8,251.2L490,252.5L489.4,255L489,258.1L489,260.6L487.5,259.8L483.8,258.8Z"/>
<path fill="#e34a33" d="M477.5,250.6L478.8,250L479.5,252.5L478.8,254.4L477.8,253.5Z"/>
<path fill="#fc8d59" d="M468.1,239.4L470,239L471,241L470,241.9L468.1,241.2Z"/>
<path fill="#e34a33" d="M525.8,227.5L529.2,226.7L533.3,225.8L535,228.3L536.7,231.7L537.5,235L540,237.5L542.5,239.7L543.3,242L546.7,244.2L551.7,245.8L556.7,247.5L561.3,248.3L561.7,248.3L563.3,250.8L562.5,254.2L564.2,257.5L565.8,260L563.3,261.7L561.7,265L558.3,268.3L555,271.7L551.7,275L548.7,278.3L547.5,281.7L548,286.7L546.7,290.8L545,295L543.3,297.5L540.8,295L538.3,290L535.8,285L533.3,279.2L530.8,273.3L528.7,267.5L527.5,263.3L523.3,262.5L520.8,260L518.3,257.5L516.7,256.3L519.2,255L521.7,252.5L520,254.2L523.3,252.5L521.7,250L519.7,247.5L520.8,245L523.7,243.3L525.8,240.8L528.3,237.5L526.3,234.2L527.5,230.8ZM547.5,294.2L550,293.3L552,296.7L552.5,300L550.8,303L548.7,301.7L547.5,298.3ZM559.7,244.3L563,244.7L564.7,248.3L561,248.7ZM557.5,248.1L561.9,248.5L565,248.8L570.6,245.6L573.8,242.5L576.9,241.2L580.6,244.4L581.2,246.9L578.1,248.1L576.9,251.9L575,255.6L574.4,258.8L573.1,261.2L571.2,258.8L570.6,256.2L568.8,256.2L567.5,254.4L565.6,253.1L563.1,252.5L561.9,251.2L557.5,251.9Z"/>
<path fill="#fdbb84" d="M542.5,240L545,238.3L549.2,240L554.2,242L559.2,244.2L561.7,245.3L561.3,248L556.7,247L551.7,245L546.7,243L543.3,242ZM563.1,245L566.2,244.4L570,245L569.8,247.8L566.2,248.5L563.1,248.1Z"/>
<path fill="#fc8d59" d="M562.5,250L565.6,249.4L568.8,250.6L570,253.1L568.8,256.2L570.6,256.2L571.2,258.8L570.6,260.6L568.8,260L567.5,258.8L566.2,260.6L564.4,260L563.8,256.2L562.5,253.8ZM573.1,261.2L574.4,258.8L575,255.6L576.9,251.9L578.1,248.1L581.2,246.9L583.1,245.6L585,248.1L585.6,251.2L584.4,254.4L586.2,256.9L588.8,259.4L591.2,261.2L593.1,262.5L591.2,264.4L588.1,266.9L586.2,269.4L587.5,272.5L589.4,275.6L590.6,278.8L590,281.2L591,285L590.2,287.5L589.4,283.8L588.1,280L586.9,276.9L586.2,276.2L585,273.8L583.1,275L581.2,276.2L580,274.4L578.8,270.6L576.9,267.5L574.4,264.4ZM588.1,266.9L591.2,264.4L593.1,262.5L593.1,265.6L593.8,268.8L594.4,271.9L596.9,271.2L599.4,270.6L601.2,272.5L603.1,275L605,277.5L605.6,280L602.5,280.6L600,281.9L598.8,283.8L599.4,286.2L596.2,285.6L593.8,284.4L592.5,286.2L591.9,288.8L592.5,292.5L593.8,295.6L595.6,298.8L596.2,300L593.1,300L591.2,296.9L590.2,293.1L590,289.4L590.6,285.6L591,282.5L590,280L589.4,275.6L587.5,272.5L586.2,269.4Z"/>
<path fill="#e34a33" d="M592.5,263.1L595,260.6L597.5,261.9L600,263.8L599.4,266.2L601.2,268.1L603.1,270.6L605.6,273.1L608.1,275.6L610,278.1L609.8,280.6L607.5,281.2L605.6,280L605,277.5L603.1,275L601.2,272.5L599.4,270.6L596.9,271.2L594.4,271.9L593.8,268.8L593.1,265.6Z"/>
<path fill="#fc8d59" d="M595,260.6L596.9,258.8L600,257.8L602.5,257.5L605,259L607.5,261.2L608.8,262.5L606.9,263.8L605,265L604.4,266.9L606.2,269.4L608.8,271.9L611.2,274.4L613.1,277.5L614.8,281.2L615.2,285L614.4,288.1L611.9,290.6L609.4,293.1L606.9,295L605.6,293.8L606.9,291.9L608.8,290L610.6,287.5L611.2,283.8L610.2,280.6L610,278.1L608.1,275.6L605.6,273.1L603.1,270.6L601.2,268.1L599.4,266.2L600,263.8L597.5,261.9ZM599.4,286.2L598.8,283.8L600,281.9L602.5,280.6L605.6,280L607.5,281.2L609.8,280.6L611.2,282.5L611,286.2L608.8,288.8L606.9,290L603.8,289.4L601.2,288.1ZM632.8,216.9L631.2,213.1L633.1,210.6L635.6,208.8L637.5,207.5L640,205.6L640.6,206.9L639.8,208.8L638.1,210.6L637.5,212.5L639,215L639.8,216.9L637.5,218.1L636.2,219.4L634.4,218.5ZM636.2,219.4L637.5,218.1L639.8,216.9L641.9,218.5L643.8,221L645.2,223.8L645.6,226.2L643.8,227.5L641.9,228.1L640,226.2L638.8,223.5L637.2,221.2Z"/>
<path fill="#fdbb84" d="M658.1,200L659.8,200.6L661.9,202.2L664.4,202.5L667.5,202.2L669.4,203.8L667.5,205L666.9,206.9L664.4,207.5L663.1,208.8L661.2,209.4L659.8,208.1L658.8,205.6L659.4,203.1ZM662.5,210.6L664.4,210.6L666.2,212.5L668.1,215L668.5,218.1L669.4,220.6L670.6,223.5L670.2,226L668.1,227.5L665.6,228.8L663.8,230.6L661.9,230L660,228.8L658.1,229.4L655.6,230L653.1,229.8L651.2,230.2L650,230.6L651.9,228.1L654.4,226.2L656.9,225.6L659.4,225L660,221.9L661.9,220.6L663.1,218.1L663.5,215L662.5,212.5ZM649,231.2L651,230.6L652.5,231.9L654,233.1L654.8,235.6L653.5,236.9L652.2,235L650.6,233.1ZM655,230.6L658.1,230L660,230.6L658.1,231.9L656,232.2Z"/>
<path fill="#fc8d59" d="M638.7,271.7L640.3,270L642.5,270.8L643.3,274.2L642.5,277.5L643.3,280.8L645.8,282.5L645,284.2L642.5,283.3L640.3,280.8L639.2,277.5L638.3,274.2ZM644.2,281.7L647.5,282.5L650,285L652.5,287.5L653.3,290L650.8,289.2L648.3,286.7L645.8,285ZM634.4,296.5L636.2,293.8L638.1,291.2L639.8,289.4L640,290.6L638.5,293.1L636.5,295.6L635,296.9ZM646,298.1L648.1,296.9L650.6,296.5L653.1,295L655,293.8L656.5,296.2L656.9,299.4L656,301.9L654,303.5L652.5,301.9L651,300L648.8,299.8L646.9,300.2ZM644.8,288.1L646.9,288.5L648.1,290.6L647.5,292.5L646,291.2L645,289.8ZM649.4,287.5L651.9,286.9L653.8,289.4L653.1,291.2L651.2,290L649.8,288.8ZM647.5,293.1L649,292.8L649.8,294.4L648.1,294.8Z"/>
<path fill="#fff" stroke="#b9a79a" d="M460.2,200.6L461.9,198.8L463.8,197.5L466.9,196L470,195.6L472.2,196.2L472.5,198.8L470.6,200L468.1,200.6L466.9,202.5L468.1,205L470,206.9L472.5,208.1L475,208.1L476.9,207.8L478.5,209.4L477.5,211.2L475.6,211.2L475,213.8L476.2,216.2L478.1,218.8L478.8,221.2L476.2,221.9L473.1,221.2L470.6,219.8L469.4,217.5L468.8,214.4L469.4,211.9L466.9,210.6L464,210.2L463.1,206.2L461.2,203.1Z"/>
<path fill="#fc8d59" d="M360,235L383.3,235L416.7,236.7L436.7,243.3L443.3,260L448.3,271.7L441.7,290L426.7,301.7L453.3,310L453.3,340L440,370L426.7,400L406.7,406.7L401.7,393.3L393.3,366.7L393.3,338.3L390,328.3L385,308.3L373.3,302.5L348.3,299.2L336.7,285L331.7,265L343.3,248.3Z"/>
<path fill="#fdbb84" d="M334.2,245.8L337.5,242.5L340.8,239.2L342.5,235L344.2,230.8L347.5,227.5L350.8,225L354.2,225.3L358.3,225.8L359.7,230L358.3,233.3L355,235L350.8,237.5L346.7,240L343.3,243.3L342.5,245.8Z"/>
<path fill="url(#hatch)" d="M323.2,262.7L325.5,258.3L328.3,253.2L332.5,247L333.7,246.3L342.3,246.3L342.7,250.7L335.3,250.7L335.2,257.2L332.5,257.3L332.5,262.3L323.7,263Z"/>
<path fill="#e34a33" d="M358.3,225.8L363.3,223.3L369.2,222L375,221.7L379.2,221.3L380,225L378.7,229.2L380.8,232.5L382.5,236.7L383.3,241.7L384.2,246.7L385,251.7L388.3,256.7L383.3,260L377.5,264.2L372.5,268L370,267L366.7,265L360,260L353.3,254.2L347.5,249.2L343,245.8L343.3,243.3L346.7,240L350.8,237.5L355,235L358.3,233.3L359.7,230ZM379.2,221.3L382.5,220.3L385.3,221.3L384.7,224.2L386.3,226.7L385,229.2L387,231.7L384.2,234.2L382.5,236.7L380.8,232.5L378.7,229.2L380,225Z"/>
<path fill="#fc8d59" d="M387,231.7L390,232.5L395,233.7L400,235.8L405,238L407.5,235L411.7,233L416.7,234.2L418,237.5L417.5,241.7L418.3,248.3L418.7,255L419.2,260.8L419.2,265.8L416.7,265.8L406.7,260.8L398.3,257.5L395.8,258.7L391.7,257.5L388.3,256.7L385,251.7L384.2,246.7L383.3,241.7L382.5,236.7L384.2,234.2ZM418,237.5L423.3,238.3L428.3,239.2L433.3,240L438.3,239.2L440,242.5L441.7,245.8L440.8,248.3L438.3,245L436.7,242.5L435,241.7L437.5,247.5L440,252.5L442.5,257.5L444.2,260.8L436.7,261.3L426.7,261.2L419.2,260.8L418.7,255L418.3,248.3L417.5,241.7ZM419.2,260.8L426.7,261.2L436.7,261.3L444.2,260.8L445.8,265L448.3,269.2L449.4,273.8L448.5,277.5L446.9,280.6L445.6,283.8L443.8,286.9L441.9,290L440.6,293.8L439.4,290.6L439,288.1L437.8,286.2L436.2,288.8L433.8,291.2L430.6,293.1L427.5,293.8L424.4,292.5L421.9,291.9L420,294.4L418.1,295.6L416.9,294.4L415,291.2L413.8,287.5L414.4,283.8L415.6,280.6L415,277.5L416.7,265.8L419.2,265.8Z"/>
<path fill="#fdd49e" d="M323.7,263L332.5,262.3L332.5,257.3L335.2,257.2L335.3,250.7L342.7,250.7L342.5,247.5L349.2,252.5L348.6,262.5L349.2,270L349.5,277.5L344.9,278.1L339.2,278.5L335.5,279.4L333.6,277.5L330.5,276L326.8,275.2L324.9,275.6L324.5,271.2L324.9,266.9Z"/>
<path fill="#fdbb84" d="M349.2,252.5L353.3,254.2L360,260L366.7,265L370,267L372.5,268L372.4,268.1L371.8,272.5L371.1,275.6L368,277.5L364.9,278.5L361.8,279.4L358.6,280L355.5,281.9L353,283.8L351.1,286.2L349.9,288.8L349.2,291.2L346.1,291.9L343.6,293.1L343,291.2L342.4,287.8L341.1,286L338,286.2L336.1,285L335.5,281.9L335.5,279.4L339.2,278.5L344.9,278.1L349.5,277.5L349.2,270L348.6,262.5ZM372.5,268L377.5,264.2L383.3,260L388.3,256.7L391.7,257.5L395.8,258.7L397.4,263.8L396.8,268.8L395.5,273.8L393.6,278.1L393,281.9L394.2,283.1L389.9,284.4L386.1,283.5L381.8,284.4L378,283.5L374.2,282.8L371.8,284.4L370.5,288.1L368.6,286.9L367.4,285.6L365.5,284.4L363.6,281.9L361.8,279.4L364.9,278.5L368,277.5L371.1,275.6L371.8,272.5L372.4,268.1ZM395.8,258.7L398.3,257.5L406.7,260.8L416.7,265.8L415,277.5L415.6,280.6L414.4,283.8L413.8,287.5L415,291.2L412.8,290L410,292.5L406.9,295L402.5,296.9L398.8,298.1L398,299.4L397.4,296.2L396.8,292.5L397,288.1L395.5,285L394.2,283.1L393,281.9L393.6,278.1L395.5,273.8L396.8,268.8L397.4,263.8ZM322.4,280.6L323.2,278.1L324.9,275.6L326.8,275.2L330.5,276L333.6,277.5L335.5,279.4L335.5,281.9L336.1,285L333.6,285.6L330.5,285.6L327.4,286L324.2,285.6L323.6,284L329.9,283.5L329.9,282.8L323.2,282.8Z"/>
<path fill="#fc8d59" d="M323.2,282.6L329.9,282.6L329.9,283.6L323.6,284.1Z"/>
<path fill="#fdbb84" d="M324.2,285.6L327.4,286L329.9,286.9L328.6,288.5L326.1,288.8L324.5,287.5Z"/>
<path fill="#fdd49e" d="M327.4,286L330.5,285.6L333.6,285.6L336.1,285L338,286.2L341.1,286L342.4,287.8L343,291.2L344.2,293.8L343.6,296.2L341.8,296.9L340.5,294.4L338.6,292.5L335.5,292.2L333,293.5L331.1,291.9L328.6,288.5L329.9,286.9Z"/>
<path fill="#fdbb84" d="M331.1,292.5L333,293.5L335.5,292.2L337.8,293.1L338,295.6L336.5,298.1L334.2,298.8L332.4,296.2ZM336.5,298.1L338,295.6L338.6,296.9L340.5,294.4L341.8,296.9L343,300L343.6,303.1L344.9,306.2L342.4,305.6L339.2,303.1L337.4,300.6Z"/>
<path fill="#e34a33" d="M343.6,293.1L346.1,291.9L349.2,292.2L352.4,291.9L355.5,293.1L355.8,296.2L354.9,300L355.5,304.4L352.4,305.2L348.6,305.6L344.9,306.5L343.6,303.1L343,300L343.6,296.2L344.2,293.8Z"/>
<path fill="#fdbb84" d="M349.9,288.8L351.1,286.2L353,283.8L355.5,281.9L358.6,280L361.8,279.4L363.6,281.9L365.5,284.4L367.4,285.6L368.6,286.9L366.1,288.1L364.2,289.4L360.5,290L356.8,289.8L356.1,291.9L355.5,293.1L352.4,291.9L349.2,292.2L349.2,291.2Z"/>
<path fill="#fc8d59" d="M356.1,290.6L356.8,289.8L360.5,290L362.8,290.2L363,293.8L363.2,298.1L364,302.5L361.1,304.4L358,305.6L355.5,304.4L354.9,300L355.8,296.2L355.5,293.1Z"/>
<path fill="#fdd49e" d="M362.8,290.2L364.2,289.4L365.2,292.5L365.5,297.5L366.1,302.2L364,302.5L363.2,298.1L363,293.8Z"/>
<path fill="#fdbb84" d="M364.2,289.4L366.1,288.1L368.6,286.9L370.5,288.1L370.2,291.2L369,295L368.6,302.2L366.1,302.2L365.5,297.5L365.2,292.5ZM370.5,288.1L371.8,284.4L374.2,282.8L378,283.5L381.8,284.4L386.1,283.5L389.9,284.4L394.2,283.1L395.5,285L397,288.1L396.1,291.2L393.6,293.8L391.8,298.1L389.2,301.2L386.1,302.5L383.6,305L380.5,307.2L376.8,306.9L374.2,304.4L371.8,302.5L368.6,302.2L369,295L370.2,291.2ZM397,288.1L396.8,292.5L397.4,296.2L398,299.4L396.8,301.9L398,305L400.5,308.8L401.1,310.6L398,311.9L393,312.2L388.6,312.2L385.5,311.9L384,308.8L383.6,305L386.1,302.5L389.2,301.2L391.8,298.1L393.6,293.8L396.1,291.2Z"/>
<path fill="#fc8d59" d="M384.9,313.1L388.6,313.1L388.6,316L384.9,316Z"/>
<path fill="#fdbb84" d="M384.2,316.2L388.6,316L388.9,313.1L393,312.5L394.2,315L396.1,316.9L394.9,320L395.5,323.1L393,325L390.5,326.2L388,328.1L385.5,325L383.6,321.2L383.2,318.1Z"/>
<path fill="#e34a33" d="M393.1,313.8L396.2,313.1L400,310.6L403.8,309.4L405,311.2L403.8,315L401.9,320L400,325L397.5,328.8L395,331.2L392.5,331.9L390.6,331.2L389.4,328.8L390.6,326.2L393.8,325L395.6,322.5L395,319.4L396.2,316.2L394.4,315.6Z"/>
<path fill="#fc8d59" d="M396.9,300.6L398.8,298.1L402.5,296.9L406.9,295L410,292.5L412.8,290L415,291.2L416.9,294.4L420,298.1L423.1,301.9L425.6,305L422.5,305.6L418.8,305L415,306.2L411.2,307.5L408.1,306.2L405.6,307.5L403.8,309.4L400,310.6L397.5,307.5L396.2,303.8ZM420,294.4L421.9,291.9L424.4,292.5L427.5,293.8L430.6,293.1L433.8,291.2L436.2,288.8L437.8,286.2L439,288.1L439.4,290.6L440.6,293.8L440,296.9L441.9,300L444.4,303.1L442.5,305.6L440,307.5L436.2,308.1L432.5,307.5L429.4,306.9L425.6,305L423.1,301.9L420,298.1L418.1,295.6Z"/>
<path fill="#fdbb84" d="M446.9,280.6L450,281L453.8,281.9L457.5,283.8L460,286.2L461.2,289.4L463.1,291.9L467.5,294.4L472.5,298.1L470,301.2L466.2,304.4L462.5,306.9L458.1,308.1L454.4,308.8L450.6,308.1L447.5,306.2L444.4,303.1L441.9,300L440,296.9L440.6,293.8L441.9,290L443.8,286.9L445.6,283.8ZM446.9,280.6L447.5,276.9L449.4,273.8L451.2,275.6L453.8,278.8L457.5,282.5L460,285.6L461.2,287.5L460,286.2L457.5,283.8L453.8,281.9L450,281Z"/>
<path fill="#fc8d59" d="M460,286.2L461.9,285.6L462.8,288.1L461.2,289.4ZM461.2,289.4L462.8,288.1L467.5,290L473.8,289.4L480,287.5L481,288.8L480,295L477.5,301.2L473.8,307.5L468.8,313.8L463.8,318.8L460,321.9L458.8,320L458.5,312.5L458.1,308.1L462.5,306.9L466.2,304.4L470,301.2L472.5,298.1L467.5,294.4L463.1,291.9ZM444.4,303.1L447.5,306.2L450.6,308.1L454.4,308.8L458.1,308.1L458.5,312.5L458.8,320L460,321.9L457.5,325L455,328.1L453.1,330.6L448.1,326.2L441.9,321.9L441.2,319.4L443.1,316.2L443.8,312.5L442.5,308.8L442.5,305.6ZM391.2,333.8L392.5,331.9L395,331.2L397.5,328.8L400,325L401.9,320L403.8,315L405,311.2L403.8,309.4L405.6,307.5L408.1,306.2L411.2,307.5L415,306.2L418.8,305L422.5,305.6L425.6,305L429.4,306.9L432.5,307.5L436.2,308.1L440,307.5L440,308.8L436.2,309.4L433.8,310L433.5,313.8L432.5,318.1L431.9,321.5L430.6,325L430.2,328.8L430.6,332.5L431.2,336.2L432.5,338.3L431.7,340L429.2,341.7L428.3,345.8L430.8,350L432.5,353.3L429.2,353.3L425.8,350.8L422.5,349.7L417.5,350L416.7,347.5L413.3,347.5L413,342.5L412.5,338.3L409.2,337.5L406.7,340L403.3,339.2L400.8,335.8L397.5,334.7L392.5,335Z"/>
<path fill="#e34a33" d="M433.8,310L436.2,309.4L440,308.8L442.5,308.8L443.8,312.5L443.1,316.2L441.2,319.4L441.9,321.2L438.1,321.5L435,321.9L431.9,321.5L432.5,318.1L433.5,313.8Z"/>
<path fill="#fc8d59" d="M430.6,325L432.5,323.1L434,323.8L433.8,326.2L431,326.5Z"/>
<path fill="#fdbb84" d="M431,326.2L433.1,325.8L433.8,327.8L433,330L431.2,330.5L430.5,328.8Z"/>
<path fill="#fc8d59" d="M431.9,321.5L435,321.9L438.1,321.5L441.9,321.2L448.1,326.2L453.1,330.6L452.5,335.8L454.2,340.8L455,345.8L450.8,348.3L445.8,349.7L441.7,349.2L439.2,345.8L435.8,342.5L432.5,340L432.5,338.3L431.2,336.2L430.6,332.5L430.2,328.8L431.5,330.2L433.1,329.4L433.8,326.9L434,323.8L432.5,323.1Z"/>
<path fill="#b30000" d="M389.7,330.8L391.3,330L392,332.5L390.3,333ZM391.3,335L397.5,334.7L400.8,335.8L403.3,339.2L406.7,340L409.2,337.5L412.5,338.3L413,342.5L413.3,347.5L416.7,347.5L417.5,350L413.3,350.8L413,355.8L413.3,360.8L415,364.2L411.7,365.3L406.7,365L400.8,364.2L395,364.2L390,363.3L389.7,359.2L390.8,354.2L392.5,349.2L393.3,344.2L392.5,339.2Z"/>
<path fill="#fc8d59" d="M413.3,350.8L417.5,350L422.5,349.7L425.8,350.8L429.2,353.3L432.5,353.3L430.8,350L428.3,345.8L429.2,341.7L431.7,340L435.8,342.5L439.2,345.8L438.3,350L437.5,355L433.3,357.5L430.8,360L426.7,361.7L423.3,364.2L420,365.3L416.7,364.7L415,364.2L413.3,360.8L413,355.8Z"/>
<path fill="#e34a33" d="M441.7,349.2L445.8,349.7L450.8,348.3L455,345.8L456.3,351.7L455.8,357.5L451.7,361.7L446.7,365.8L443.3,369.2L442.5,374.2L443,379.2L440.8,383.3L437.5,385.8L435.8,388.3L435,385L435.8,380L435,375.8L437.5,371.7L438.3,366.7L437.5,362.5L435,359.7L432.5,358.3L433.3,357.5L437.5,355L438.3,350L439.2,345.8Z"/>
<path fill="#fc8d59" d="M438.3,344.2L440.8,346.7L442,351.7L443.3,356.7L441.7,359.2L440,355.8L439.2,350.8ZM423.3,364.2L426.7,361.7L430.8,360L432.5,358.3L435,359.7L437.5,362.5L438.3,366.7L437.5,371.7L435,375.8L431.7,377L428.3,375.8L425.8,372.5L422.5,369.2L420.3,365.8Z"/>
<path fill="#e34a33" d="M390,363.3L395,364.2L400.8,364.2L406.7,365L411.7,365.3L415,364.2L416.7,364.7L412.5,365.8L410,366.3L409.7,371.7L408.7,378.3L408.3,385L407.5,390.8L405,395L401.7,395.8L399.2,392.5L396.7,386.7L394.7,380L392.5,373.3L390.8,367.5ZM410,366.3L412.5,365.8L416.7,364.7L420,365.3L422.5,369.2L425.8,372.5L428.3,375.8L426.7,378.3L423.3,381.7L420,384.2L416.7,385.8L413.3,386.7L410.8,389.2L408.3,388.3L408.3,385L408.7,378.3L409.7,371.7Z"/>
<path fill="#fc8d59" d="M400,393.3L401.7,395.8L404.7,395.3L407.5,390.8L408.3,388.3L410.8,389.2L413.3,386.7L416.7,385.8L420,384.2L423.3,381.7L426.7,378.3L428.3,375.8L431.7,377L435,375.8L435.8,380L435,385L435.8,388.3L435,391.7L433.3,395.8L430,400L426.7,403.3L423.3,405.8L419.2,407.5L415,408.3L410,409.2L405.8,410L403,408.3L402,404.2L402.5,400L400.8,396.7Z"/>
<path fill="#fdbb84" d="M431.7,387.5L433.7,386.3L435,388.3L433.3,390.8ZM423,395.8L425.8,394.2L428,396.3L425.3,398.7Z"/>
<path fill="#fc8d59" d="M460.8,380L461.7,375L463.3,370L464.2,364.2L468.3,360.8L471.7,357.5L475,352.5L476.7,350.8L478.3,354.2L478.7,359.2L476.7,364.2L475,370L473.3,375.8L471.3,381.7L468.3,385L465,386.3L462,384.2Z"/>
<path fill="#fc8d59" d="M590,285L593.1,285L592.5,288.8L593.8,292.5L595.6,296.2L597.5,298.8L599.8,301.2L599,302.5L596.9,301.9L595.6,301L593.8,298.8L591.9,296.2L590.6,292.5L590,288.8Z"/>
<path fill="#fdbb84" d="M595.6,301.9L597.5,302.2L599.8,302.5L601.9,305L603.5,308.1L604.4,311.9L605,315L603.8,315.6L601.2,314.4L599,311.9L597.2,308.8L596,305Z"/>
<path fill="#fc8d59" d="M585,305.6L586.9,304.4L589.4,306.2L592.5,309.4L595.6,312.5L598.8,315.6L601.9,318.8L605,321.9L607.5,325L608.8,328.8L608.5,333.1L607.5,334.8L605,333.1L602.5,330L599.4,325.6L596.2,321.2L593.1,316.9L590,312.5L586.9,308.8ZM607.5,335.6L610,334.4L613.8,335.2L617.5,336.5L620.6,336.2L623.8,337.5L627.5,338.8L630.6,340L629.4,341.5L625.6,341.2L621.9,340.2L617.5,339.8L613.1,339L609.4,337.8ZM616.2,316.2L617.8,314L619.4,315.6L622.5,316.2L626.2,315L629.4,313.1L631.2,310L633.1,308.1L635.6,308.1L636.9,310.6L637.5,313.8L639,316.2L637.5,317.8L636.2,320.6L634.4,323.8L633.1,326.9L631.9,328.8L629.8,329L627.5,327.5L624.4,326.9L621.9,327.2L619.4,326.2L617.8,323.1L616.5,320Z"/>
<path fill="#fdbb84" d="M617.8,314L620,313.1L623.1,311.2L626.2,308.8L628.8,306.2L631.2,303.8L633.1,301.2L634.4,300.2L636.2,301.9L638.1,303.8L639.8,305L638.1,306.5L636.2,307.2L635.6,308.1L633.1,308.1L631.2,310L629.4,313.1L626.2,315L622.5,316.2L619.4,315.6Z"/>
<path fill="#fc8d59" d="M641.9,318.8L643.8,316.5L646.9,315.6L650.6,315.6L654,314.4L653.1,316.2L650,317.8L646.9,318.5L644.4,320L643.8,321.9L646.2,321.5L649.4,321L648.1,322.5L645.6,323.5L646.9,326.2L648.8,329.4L649.4,332.2L647.5,333.1L646.2,330.6L644.8,327.5L643.8,325L642.8,328.1L643.1,331.9L641.9,333.1L640.2,331.9L640,328.1L639.8,325L640.6,321.9ZM659.8,313.5L661,313.1L661.9,315.6L661.5,318.5L660.6,320.2L659.8,318.1L659.4,315.6ZM655.6,327.5L657.5,326.9L659,327.8L657.2,328.8ZM660.2,326.9L663.1,326.2L666,327.2L666.9,328.5L664.4,328.1L661.5,327.8ZM674.4,333.8L675.6,333.1L675.2,335.6L674.2,336.9ZM633.1,341.9L635,341L638.1,340.6L638.8,341.9L636.2,342.8L633.8,342.8ZM640.6,341.5L643.8,341L647.5,340.2L647.2,341.5L643.8,342.2L641.2,342.5ZM638.5,344L640.6,343.8L642.8,345.2L641,346L639,345.2ZM648.8,345L650.6,343.1L653.8,341.9L657.8,341L656.9,342.5L653.5,344L650.6,345.6L649,346.2ZM667,321.2L670,320L673.8,321.2L673,324.5L676.2,326.2L680,324.5L683.8,323L688.8,324.5L690.5,325.5L690,342.5L686.2,341.2L683.8,338.8L682,335L678.8,332.5L675,330L672,328.8L670,325ZM690.5,325.5L695,327L700,330L704.5,332.5L706.2,336.2L705,338L707,341.2L710,343.8L712,346.2L708.8,345.8L705,343.8L701.2,341.2L697.5,340L693.8,342L690,342.5ZM707.5,333.8L711.2,332.5L715,330L717,327L718,328.8L716.2,332L712.5,334.5L708.8,335.5ZM722,332.5L723.8,333.8L726.2,336.2L725,337L722.5,335ZM728,337.5L730.5,338.8L733,341.2L732,342L729.5,340ZM733.8,342.5L736.2,344.5L737.5,347L735.5,346.2ZM747,358L748.2,359.5L748.5,362.5L747.2,361.2ZM737.5,372.5L739.5,373L742.5,376.2L743,378L740.5,377L738,374.5ZM769.5,365L772.5,363.8L773.8,362.5L776.2,361.2L777,362.5L773.8,365L771.2,367Z"/>
<path fill="#fdd49e" d="M616.2,408.8L618.8,405L620,400L618.8,393.8L619.5,387.5L621.2,381.2L623.8,376.2L628.8,373.8L635,371.2L640,368.8L643.8,365L647.5,361.2L651.2,358.8L656.2,356.2L660,357.5L662,353.8L665,351.2L668.8,348.8L671.2,350.5L675,350L678.8,351.2L677.5,355L675,357.5L678.8,360.5L682.5,363L685.5,365L687.5,361.2L689.5,355L691.2,348.8L692.5,347.5L693.8,351.2L695,357.5L697.5,362.5L698.8,367.5L702.5,371.2L705,376.2L706.2,381.2L708.2,386.2L708.8,391.2L707.5,397.5L705,403.8L702,408.8L698.8,412.5L695,416.2L690,418.8L685,420L680,419.5L676.2,421.2L671.2,419.5L668,416.2L666.2,412.5L667,408.8L663.8,411.2L661.2,410L662,406.2L658.8,403.8L653.8,402.5L647.5,403.8L641.2,405L636.2,406.2L631.2,408.8L626.2,410.5L621.2,410.5L617.5,410ZM670.5,427.5L675,426.2L679.5,427L677.5,431.2L673.8,433.8L671.2,432Z"/>
<path fill="#fdbb84" d="M742,410.5L743.2,410L744.5,411.5L744.8,414L745.5,415.8L746,417L748,418.5L749.8,418.2L749,420L747,421.8L744.5,423.5L742,425L739.5,426.5L737,428L735.2,428.8L735.8,427L737.5,425.5L737,423.5L738.5,422L740.5,420.5L742,418.5L742.8,416.2L742.5,413.5ZM708,440L709.5,438.5L713,436.5L717,434.8L721,433L724.5,431L727.5,429L730,427.2L732.5,426L733.8,427.2L732,429.5L729.5,431.5L726.5,433.5L723.5,434.5L720.5,436.2L717.5,439L714.5,441L711.5,441.8L709.5,441.2Z"/>
<path fill="#e34a33" d="M4.7,267.5L6.3,265.3L7.7,267L6,269.2ZM0.8,261.3L2,262L1.7,262.7ZM3,263L4.7,264.2L4,265Z"/>
<!--MAP-END-->
</g>
<!-- legend -->
<g id="legend">
<rect x="215.5" y="518.5" width="48" height="10" fill="url(#hatch)" stroke="#d2d2d2" stroke-width="1"/>
<line x1="239.5" y1="515" x2="239.5" y2="518" stroke="#b0b0b0" stroke-width="0.8"/>
<rect x="283" y="518" width="58.6" height="10" fill="#fef0d9"/>
<rect x="341.6" y="518" width="58.6" height="10" fill="#fdd49e"/>
<rect x="400.2" y="518" width="58.6" height="10" fill="#fdbb84"/>
<rect x="458.8" y="518" width="58.6" height="10" fill="#fc8d59"/>
<rect x="517.4" y="518" width="58.6" height="10" fill="#e34a33"/>
<path d="M576 518H629L634.5 523L629 528H576Z" fill="#b30000"/>
<path d="M283 518H629L634.5 523L629 528H283Z" fill="none" stroke="#c9b9a5" stroke-width="0.6"/>
<g stroke="#8f8f8f" stroke-width="0.6">
<line x1="283.3" y1="515" x2="283.3" y2="528"/>
<line x1="341.6" y1="515" x2="341.6" y2="528"/>
<line x1="400.2" y1="515" x2="400.2" y2="528"/>
<line x1="458.8" y1="515" x2="458.8" y2="528"/>
<line x1="517.4" y1="515" x2="517.4" y2="528"/>
<line x1="576" y1="515" x2="576" y2="528"/>
</g>
</g>
</svg>

<div class="abs lg" style="left:239.5px;top:499.3px;font-size:13.2px;">No data</div>
<div class="abs lg" style="left:283px;top:499.3px;">0%</div>
<div class="abs lg" style="left:341.6px;top:499.3px;">5%</div>
<div class="abs lg" style="left:400.2px;top:499.3px;">10%</div>
<div class="abs lg" style="left:458.8px;top:499.3px;">15%</div>
<div class="abs lg" style="left:517.4px;top:499.3px;">20%</div>
<div class="abs lg" style="left:576px;top:499.3px;">25%</div>

<div class="abs foot" style="left:16px;top:549.1px;"><b style="letter-spacing:-0.45px">Data source:</b><span style="letter-spacing:0.04px"> World Inequality Database (WID.world) (2025)</span></div>
<div class="abs foot" style="right:20px;top:549.1px;">economic-inequality | CC BY</div>
<div class="abs foot" style="left:16px;top:569.1px;"><b>Note:</b> Income is measured before payment of taxes and non-pension benefits, but after the payment of public and private pensions.</div>
</body>
</html>
